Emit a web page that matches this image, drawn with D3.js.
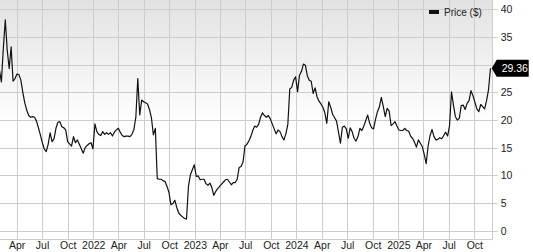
<!DOCTYPE html>
<html>
<head>
<meta charset="utf-8">
<script src="https://cdn.jsdelivr.net/npm/d3@7"></script>
<style>
  html, body { margin: 0; padding: 0; background: #fff; }
  svg { display: block; font-family: "Liberation Sans", Arial, sans-serif; }
</style>
</head>
<body>
<div id="chart"></div>
<script>
// weekly closes, first week below, one value per week
var firstWeek = "2021-01-29";
var prices = [
  29.0, 26.9, 33.0, 38.1, 32.6, 29.3, 33.2, 27.0, 27.5, 28.3,
  28.2, 27.2, 25.0, 23.1, 21.8, 20.8, 20.5, 20.6, 20.5, 19.8,
  18.6, 17.3, 15.9, 14.8, 14.3, 15.6, 17.7, 16.1, 16.6, 18.5,
  19.6, 19.7, 18.8, 18.6, 18.2, 16.1, 15.7, 15.3, 17.0, 15.9,
  16.4, 15.6, 14.8, 14.0, 15.0, 15.4, 15.7, 15.9, 14.8, 19.3,
  17.9, 17.4, 17.2, 17.9, 17.4, 17.7, 17.4, 17.7, 17.1, 17.8,
  18.2, 18.5, 17.8, 17.2, 17.0, 17.1, 17.1, 17.0, 17.4, 18.3,
  20.5, 27.5, 20.9, 23.6, 23.3, 23.1, 22.9, 21.9, 20.4, 17.3,
  18.5, 9.4, 9.3, 9.3, 9.0, 8.9, 8.0, 6.9, 4.7, 4.9,
  5.5, 4.2, 3.2, 2.8, 2.5, 2.2, 2.1, 8.0, 10.1, 11.0,
  11.9, 9.8, 9.9, 9.2, 9.3, 9.3, 8.5, 8.2, 8.6, 7.8,
  6.4, 7.1, 7.6, 8.0, 8.4, 8.8, 9.2, 9.3, 8.8, 8.3,
  8.7, 8.7, 9.3, 11.4, 11.6, 12.4, 15.3, 15.6, 16.2, 17.0,
  18.1, 18.9, 18.7, 19.2, 20.5, 21.3, 20.8, 20.5, 20.8, 20.2,
  19.3, 18.4, 17.5, 18.2, 17.9, 17.0, 16.4, 17.5, 19.2, 25.6,
  25.9, 27.2, 27.8, 25.1, 28.1, 28.8, 30.1, 29.9, 28.0, 27.2,
  27.0, 24.8, 25.8, 24.2, 23.4, 22.9, 22.3, 21.3, 19.4, 23.3,
  22.3, 21.0, 20.4, 19.8, 17.8, 15.8, 18.7, 18.9, 18.4, 16.7,
  18.6, 17.9, 16.7, 16.2, 17.0, 18.5, 18.1, 18.9, 19.9, 20.9,
  19.4, 18.6, 18.4, 20.1, 21.5, 22.4, 24.1, 22.4, 20.6, 22.1,
  21.6, 19.0, 19.3, 19.7, 18.9, 18.2, 18.1, 18.1, 18.5, 18.1,
  18.0, 17.1, 16.7, 16.0, 15.1, 16.4, 15.8, 15.2, 13.8, 12.1,
  15.3, 17.2, 18.3, 17.0, 16.4, 16.5, 16.8, 16.6, 17.2, 17.8,
  17.1, 19.0, 25.1, 22.7, 20.6, 20.0, 20.3, 22.6, 22.7, 21.9,
  23.0, 23.5, 25.3, 24.4, 23.2, 22.0, 21.5, 22.8, 22.4, 22.0,
  23.5, 25.5, 29.36
];
var yTicks = [0, 5, 10, 15, 20, 25, 30, 35, 40];
var monthNames = ["Jan", "Feb", "Mar", "Apr", "May", "Jun", "Jul", "Aug", "Sep", "Oct", "Nov", "Dec"];
var seriesName = "Price ($)";

var W = 533, H = 252;
var plotW = 492.7, plotH = 240;

var parse = d3.timeParse("%Y-%m-%d");
var start = parse(firstWeek);
var data = prices.map(function(p, i) {
    return {date: d3.timeDay.offset(start, 7 * i), price: p};
});
var last = data[data.length - 1];

var x = d3.scaleTime()
    .domain([parse("2021-01-31"), parse("2025-12-06")])
    .range([0, plotW]);
var y = d3.scaleLinear().domain([-1.68, 41.68]).range([plotH, 0]);

var svg = d3.select("#chart").append("svg")
    .attr("width", W)
    .attr("height", H);

var defs = svg.append("defs");
var grad = defs.append("linearGradient")
    .attr("id", "bg").attr("x1", 0).attr("y1", 0).attr("x2", 0).attr("y2", 1);
grad.append("stop").attr("offset", "0%").attr("stop-color", "#e2e2e2");
grad.append("stop").attr("offset", "52%").attr("stop-color", "#ffffff");
defs.append("clipPath").attr("id", "clip")
    .append("rect").attr("width", plotW).attr("height", plotH);

svg.append("rect")
    .attr("width", plotW).attr("height", plotH)
    .attr("fill", "url(#bg)");

// grid
var quarters = d3.timeMonth.every(3).range(x.domain()[0], x.domain()[1])
    .filter(function(d) { return d.getMonth() % 3 === 0; });
svg.append("g").selectAll("line").data(quarters).enter().append("line")
    .attr("x1", function(d) { return Math.round(x(d)) + 0.5; })
    .attr("x2", function(d) { return Math.round(x(d)) + 0.5; })
    .attr("y1", 0).attr("y2", plotH)
    .attr("stroke", "#cdcdcd");
svg.append("g").selectAll("line").data(yTicks).enter().append("line")
    .attr("x1", 0).attr("x2", plotW + 5)
    .attr("y1", function(d) { return Math.round(y(d)) + 0.5; })
    .attr("y2", function(d) { return Math.round(y(d)) + 0.5; })
    .attr("stroke", "#cdcdcd");
svg.append("line")
    .attr("x1", 0).attr("x2", plotW).attr("y1", plotH - 0.5).attr("y2", plotH - 0.5)
    .attr("stroke", "#cdcdcd");
svg.append("line")
    .attr("x1", Math.round(plotW) - 0.5).attr("x2", Math.round(plotW) - 0.5)
    .attr("y1", 0).attr("y2", plotH)
    .attr("stroke", "#cdcdcd");

// axes labels (the one under the price callout is hidden, as in the original)
var ly = y(last.price);
var labelTicks = yTicks.filter(function(t) { return Math.abs(y(t) - ly) > 9; });
var yAxis = d3.axisRight(y).tickValues(labelTicks).tickSize(0).tickPadding(8);
var gy = svg.append("g").attr("transform", "translate(" + plotW + ",0)").call(yAxis);
gy.select(".domain").remove();
gy.selectAll("text").attr("font-size", "10.5px").attr("fill", "#222")
    .attr("font-family", "Liberation Sans, Arial, sans-serif");

var xAxis = d3.axisBottom(x).tickValues(quarters).tickSize(0).tickPadding(2)
    .tickFormat(function(d) {
        return d.getMonth() === 0 ? d.getFullYear() : monthNames[d.getMonth()];
    });
var gx = svg.append("g").attr("transform", "translate(0," + plotH + ")").call(xAxis);
gx.select(".domain").remove();
gx.selectAll("text").attr("font-size", "10.5px").attr("fill", "#222")
    .attr("font-family", "Liberation Sans, Arial, sans-serif");

// price line
var line = d3.line()
    .x(function(d) { return x(d.date); })
    .y(function(d) { return y(d.price); });
svg.append("g").attr("clip-path", "url(#clip)")
    .append("path")
    .datum(data)
    .attr("fill", "none")
    .attr("stroke", "#111")
    .attr("stroke-width", 1.2)
    .attr("stroke-linejoin", "round")
    .attr("d", line);

// legend
var legend = svg.append("g").attr("transform", "translate(429,0)");
legend.append("rect")
    .attr("x", 0).attr("y", 10).attr("width", 10).attr("height", 4)
    .attr("fill", "#111");
legend.append("text")
    .attr("x", 15).attr("y", 15.5)
    .attr("font-size", "10px")
    .attr("fill", "#222")
    .text(seriesName);

// last price callout
var tipX = plotW - 1;
svg.append("path")
    .attr("d", "M" + tipX + "," + ly +
               "L" + (tipX + 5) + "," + (ly - 8.5) +
               "L" + (tipX + 37) + "," + (ly - 8.5) +
               "L" + (tipX + 37) + "," + (ly + 8.5) +
               "L" + (tipX + 5) + "," + (ly + 8.5) + "Z")
    .attr("fill", "#000");
svg.append("text")
    .attr("x", tipX + 10).attr("y", ly)
    .attr("dy", "0.35em")
    .attr("font-size", "10.5px")
    .attr("fill", "#fff")
    .text(last.price.toFixed(2));
</script>
</body>
</html>
